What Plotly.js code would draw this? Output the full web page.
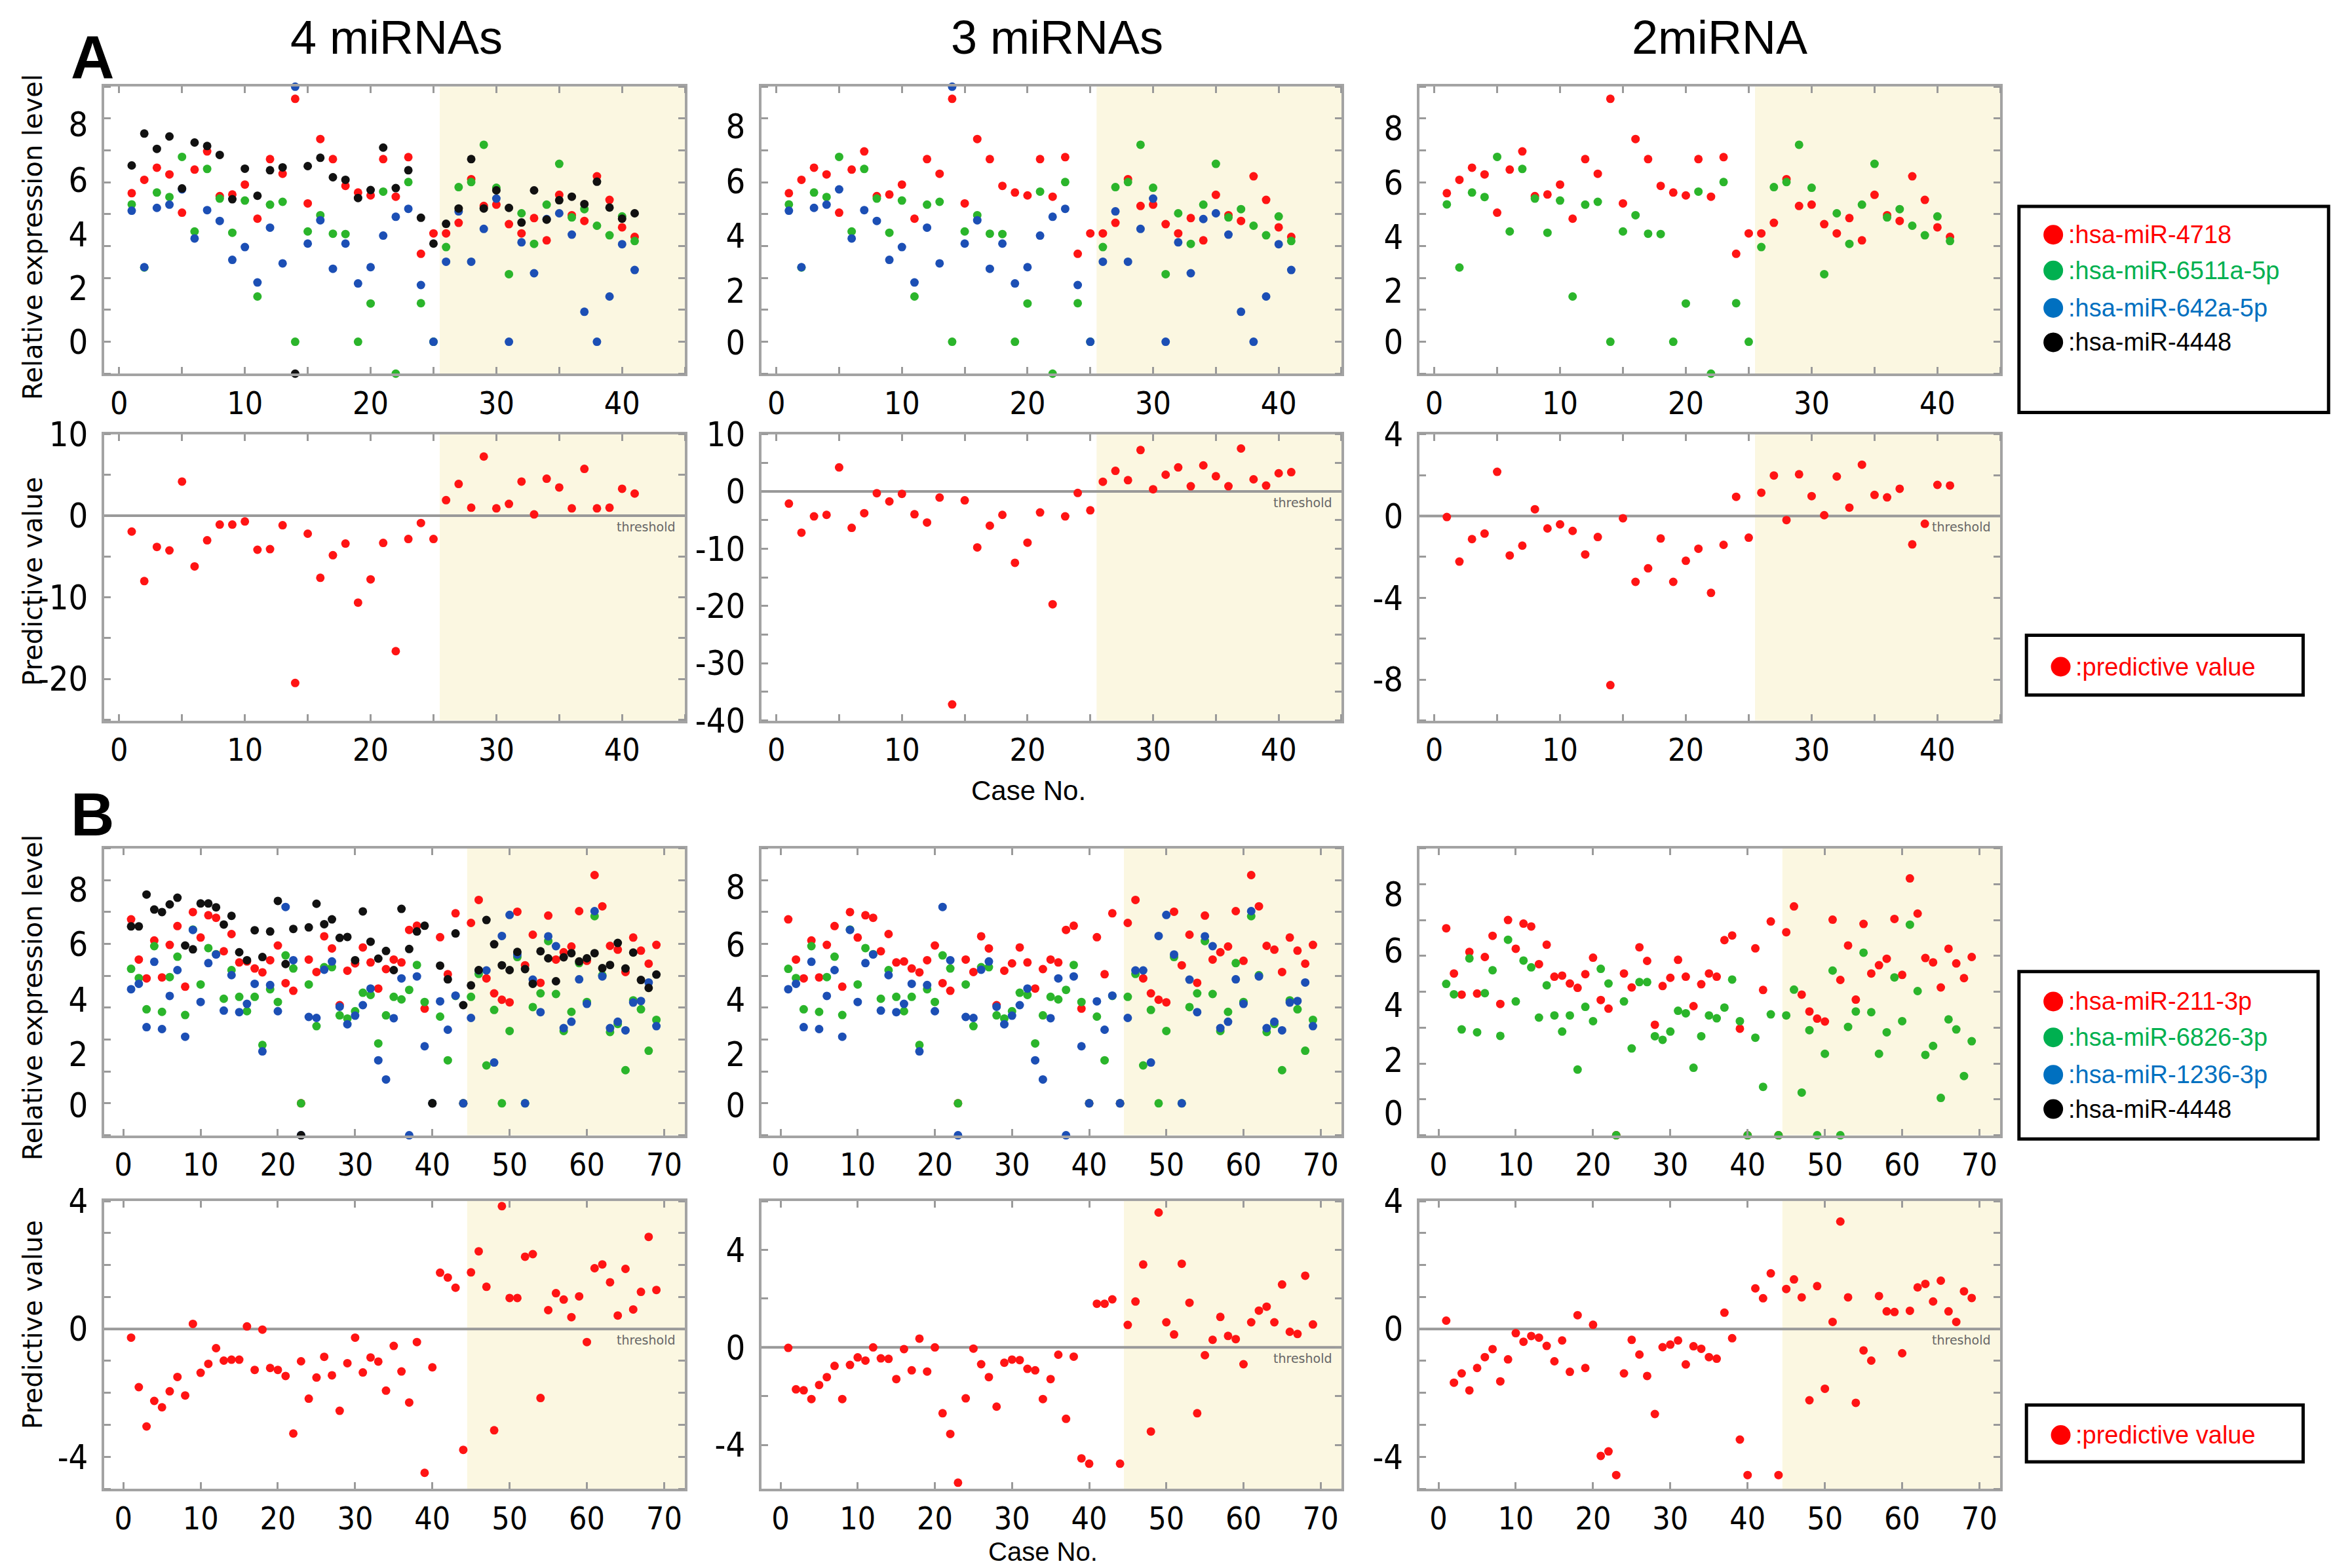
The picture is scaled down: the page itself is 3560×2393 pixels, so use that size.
<!DOCTYPE html>
<html><head><meta charset="utf-8">
<script src="https://cdn.plot.ly/plotly-3.0.1.min.js"></script>
<style>html,body{margin:0;padding:0;background:#fff}</style>
</head><body><div id="chart" style="width:3560px;height:2393px"></div>
<script>
// ---------------- DATA ----------------
const casesA = [1,2,3,4,5,6,7,8,9,10,11,12,13,14,15,16,17,18,19,20,21,22,23,24,25,26,27,28,29,30,31,32,33,34,35,36,37,38,39,40,41];
const casesB = [1,2,3,4,5,6,7,8,9,10,11,12,13,14,15,16,17,18,19,20,21,22,23,24,25,26,27,28,29,30,31,32,33,34,35,36,37,38,39,40,41,42,43,44,45,46,47,48,49,50,51,52,53,54,55,56,57,58,59,60,61,62,63,64,65,66,67,68,69];

// Set A: relative expression level
const A_miR4718  = [4.66,5.08,5.46,5.25,4.05,5.40,5.97,4.57,4.62,4.93,3.86,5.73,5.27,7.62,4.34,6.36,5.73,4.89,4.68,4.59,5.73,4.55,5.79,2.76,3.40,3.40,3.73,5.10,4.26,4.30,3.69,3.40,3.88,3.18,4.61,3.97,3.79,5.19,4.45,3.59,3.29];
const A_miR6511a = [4.31,2.33,4.68,4.54,5.80,3.46,5.42,4.49,3.42,4.43,1.42,4.30,4.39,0,3.46,3.97,3.39,3.38,0,1.20,4.71,-1.0,5.01,1.21,0,2.97,4.85,5.01,6.18,4.83,2.12,4.03,3.07,4.30,5.58,3.90,4.16,3.64,3.34,3.93,3.16];
const A_miR642a  = [4.11,2.34,4.20,4.30,4.78,3.24,4.13,3.79,2.57,2.97,1.86,3.58,2.46,8.0,3.08,3.81,2.29,3.08,1.83,2.34,3.33,3.92,4.17,1.78,0,2.51,4.09,2.51,3.54,4.49,0,3.12,2.15,3.85,4.03,3.36,0.94,0,1.42,3.06,2.25];
const A_miR4448  = [5.53,6.53,6.05,6.44,4.81,6.25,6.14,5.86,4.47,5.43,4.58,5.38,5.47,-1.0,5.51,5.77,5.16,5.08,4.51,4.76,6.09,4.82,5.38,3.89,3.08,3.70,4.18,5.73,4.18,4.75,4.20,3.74,4.75,3.83,4.44,4.55,4.32,5.02,4.21,3.86,4.03];
// Set A: predictive values
const A_pred4 = [-1.94,-8.01,-3.82,-4.25,4.19,-6.21,-3.01,-1.08,-1.08,-0.70,-4.17,-4.09,-1.16,-20.5,-2.20,-7.61,-4.84,-3.41,-10.65,-7.80,-3.33,-16.6,-2.85,-0.89,-2.85,1.91,3.90,0.99,7.26,0.91,1.45,4.19,0.16,4.54,3.47,0.91,5.75,0.91,0.99,3.31,2.72];
const A_pred3 = [-2.12,-7.20,-4.36,-4.09,4.20,-6.36,-3.79,-0.30,-1.74,-0.42,-3.98,-5.42,-1.06,-37.2,-1.55,-9.77,-5.98,-4.09,-12.46,-8.94,-3.67,-19.7,-4.36,-0.27,-3.30,1.70,3.60,1.97,7.23,0.38,2.92,4.20,0.91,4.55,2.65,0.91,7.50,2.12,1.02,3.18,3.37];
const A_pred2 = [-0.05,-2.23,-1.13,-0.86,2.16,-1.93,-1.45,0.33,-0.61,-0.41,-0.73,-1.88,-1.03,-8.27,-0.11,-3.22,-2.56,-1.10,-3.22,-2.19,-1.60,-3.76,-1.41,0.94,-1.06,1.14,1.98,-0.20,2.04,0.97,0.04,1.93,0.41,2.51,1.03,0.91,1.33,-1.39,-0.38,1.52,1.49];

// Set B: relative expression level
const B_miR211  = [5.77,4.51,3.92,5.11,3.95,4.97,5.56,3.66,6.00,5.20,5.90,5.82,4.77,5.31,4.42,4.45,4.23,4.11,4.49,4.95,3.77,3.53,0,4.51,4.12,5.24,4.86,3.08,4.16,4.39,4.89,4.42,3.60,4.21,4.51,4.42,5.44,5.57,2.97,0,5.21,4.05,5.96,0,5.66,6.38,3.92,3.45,3.25,3.17,6.01,4.33,5.29,3.78,5.89,4.51,4.74,4.92,6.03,4.47,7.16,6.18,4.94,4.82,4.12,5.20,4.79,4.38,4.97];
const B_miR6826 = [4.22,3.93,2.95,4.93,2.87,3.96,4.60,2.77,5.45,3.73,4.87,4.68,3.28,4.18,3.34,2.89,3.34,1.83,3.58,3.18,4.64,4.23,0,3.73,2.42,4.27,4.27,2.76,2.66,2.89,3.47,3.40,1.88,2.76,3.34,3.26,3.56,4.34,3.18,0,2.72,1.35,3.37,0,3.34,4.06,1.19,2.93,0,2.27,4.59,0,3.02,3.45,5.09,3.43,2.27,2.87,4.40,3.18,5.87,4.02,2.24,2.49,1.04,3.23,2.95,1.65,2.62];
const B_miR1236 = [3.58,3.75,2.39,4.44,2.33,3.37,4.18,2.09,5.44,3.18,4.40,4.67,2.91,4.02,2.86,3.12,3.75,1.63,3.71,2.89,6.16,4.49,-1.0,2.71,2.68,4.19,4.45,3.03,2.48,2.75,3.08,3.60,1.35,0.75,2.67,3.92,-1.0,3.98,1.79,0,3.20,2.31,3.38,0,2.68,4.17,4.17,1.28,5.25,5.91,4.67,0,3.88,2.86,5.24,4.93,2.36,2.56,3.89,3.12,6.03,3.98,2.36,2.56,2.29,3.16,3.21,3.79,2.42];
const B_miR4448 = [5.55,5.55,6.55,6.08,6.00,6.24,6.45,4.95,4.83,6.27,6.27,6.15,5.61,5.88,4.74,4.49,5.43,4.59,5.39,6.35,4.37,5.47,-1.0,5.52,6.26,5.62,5.77,5.19,5.22,4.49,6.02,5.07,4.54,4.78,4.18,6.10,4.84,5.39,5.57,0,4.32,3.89,5.33,3.08,3.70,4.18,5.75,4.99,4.33,4.18,4.75,4.21,3.75,4.77,4.55,3.83,4.58,4.71,4.45,4.55,4.71,4.24,4.34,5.03,4.23,4.73,3.87,3.62,4.04];
// Set B: predictive values
const B_pred4 = [-0.27,-1.82,-3.05,-2.25,-2.45,-1.95,-1.50,-2.08,0.16,-1.37,-1.09,-0.60,-0.99,-0.96,-0.96,0.08,-1.28,-0.02,-1.22,-1.28,-1.47,-3.27,-1.01,-2.18,-1.52,-0.87,-1.45,-2.56,-1.07,-0.27,-1.36,-0.89,-1.02,-1.93,-0.53,-1.33,-2.30,-0.41,-4.50,-1.20,1.76,1.61,1.29,-3.78,1.77,2.43,1.32,-3.17,3.84,0.97,0.97,2.26,2.34,-2.16,0.59,1.12,0.92,0.37,1.02,-0.41,1.90,2.02,1.46,0.42,1.88,0.61,1.16,2.88,1.22];
const B_pred3 = [-0.02,-1.72,-1.76,-2.12,-1.54,-1.22,-0.76,-2.12,-0.72,-0.41,-0.54,0.00,-0.45,-0.47,-1.30,-0.07,-0.94,0.36,-0.99,0.00,-2.70,-3.55,-5.55,-2.09,-0.05,-0.69,-1.22,-2.43,-0.63,-0.50,-0.52,-0.88,-0.94,-2.12,-1.30,-0.30,-2.93,-0.38,-4.55,-4.77,1.79,1.79,1.97,-4.77,0.92,1.88,3.40,-3.45,5.53,1.03,0.53,3.43,1.83,-2.70,-0.32,0.31,1.25,0.47,0.34,-0.69,1.03,1.51,1.67,1.03,2.58,0.64,0.55,2.94,0.94];
const B_pred2 = [0.26,-1.68,-1.39,-1.92,-1.22,-0.88,-0.63,-1.64,-0.95,-0.13,-0.40,-0.22,-0.27,-0.53,-1.01,-0.36,-1.34,0.43,-1.22,0.13,-3.97,-3.83,-4.57,-1.39,-0.34,-0.80,-1.47,-2.66,-0.57,-0.49,-0.36,-1.11,-0.54,-0.62,-0.88,-0.93,0.51,-0.29,-3.46,-4.57,1.27,0.96,1.74,-4.57,1.25,1.55,0.99,-2.23,1.34,-1.87,0.22,3.36,0.99,-2.31,-0.67,-0.99,1.03,0.55,0.53,-0.76,0.57,1.30,1.41,0.86,1.51,0.55,0.22,1.18,0.97];

// tick label texts
const exprTickText = ['0','2','4','6','8'];
const xTicksA = [0,10,20,30,40];
const xTicksB = [0,10,20,30,40,50,60,70];

// legend labels
const legendA = [':hsa-miR-4718',':hsa-miR-6511a-5p',':hsa-miR-642a-5p',':hsa-miR-4448'];
const legendB = [':hsa-miR-211-3p',':hsa-miR-6826-3p',':hsa-miR-1236-3p',':hsa-miR-4448'];
const colTitles = ['4 miRNAs','3 miRNAs','2miRNA'];

// ---------------- STYLE ----------------
const DOT = {red:'#ff1414', green:'#2bb52b', blue:'#1c4fb5', black:'#111111'};
const LEG = {red:'#ff0000', green:'#00b050', blue:'#0070c0', black:'#000000'};
const SHADE = '#fbf7e1';
const BOX = '#a3a3a3';
const FAM = '"Liberation Sans Narrow","DejaVu Sans Condensed","Liberation Sans",sans-serif';
const YTICKFONT = {family:FAM, size:52, color:'#000'};
const XTICKFONT = {family:FAM, size:48, color:'#000'};
const xDom = [[0.0446,0.2936],[0.3263,0.5750],[0.6083,0.8574]];
const yDom = [[0.7617,0.9447],[0.5405,0.7231],[0.2760,0.4590],[0.0505,0.2340]];

function seq(a,b,s){const r=[];for(let v=a;v<=b+1e-9;v+=s)r.push(+v.toFixed(6));return r;}

const traces=[], shapes=[], annotations=[];
const layout = {width:3560, height:2393, margin:{l:0,r:0,t:0,b:0}, paper_bgcolor:'#fff', plot_bgcolor:'rgba(0,0,0,0)', showlegend:false, font:{family:'Liberation Sans, Arial, sans-serif'}};

function panel(idx,row,col,o){
  const sfx = idx===1?'':String(idx);
  const xr='x'+sfx, yr='y'+sfx;
  layout['xaxis'+sfx] = {domain:xDom[col], anchor:yr, range:o.xr, tickmode:'array', tickvals:o.xt, ticktext:o.xt.map(String),
    ticks:'', showline:true, mirror:'ticks', linecolor:BOX, linewidth:4, showgrid:false, zeroline:false, tickfont:XTICKFONT, ticklabelstandoff:0,
    minor:{tickmode:'array', tickvals:o.xm, ticks:'inside', ticklen:10, tickwidth:3, tickcolor:'#9a9a9a', showgrid:false}};
  layout['yaxis'+sfx] = {domain:yDom[row], anchor:xr, range:o.yr, tickmode:'array', tickvals:o.yt, ticktext:o.ytt,
    ticks:'', showline:true, mirror:'ticks', linecolor:BOX, linewidth:4, showgrid:false, zeroline:false, tickfont:YTICKFONT, ticklabelstandoff:10,
    minor:{tickmode:'array', tickvals:o.ym, ticks:'inside', ticklen:10, tickwidth:3, tickcolor:'#9a9a9a', showgrid:false}};
  shapes.push({type:'rect', xref:xr, yref:yr+' domain', x0:o.shade, x1:o.xr[1], y0:0, y1:1, fillcolor:SHADE, line:{width:0}, layer:'below'});
  if(o.thr){
    shapes.push({type:'line', xref:xr+' domain', yref:yr, x0:0, x1:1, y0:0, y1:0, line:{color:'#999', width:4}, layer:'below'});
    annotations.push({xref:xr+' domain', yref:yr, x:0.985, y:0, xanchor:'right', yanchor:'top', yshift:-4, text:'threshold', showarrow:false, font:{family:'DejaVu Sans', size:19, color:'#666'}});
  }
  o.series.forEach(s=>{
    traces.push({type:'scatter', mode:'markers', x:o.cases, y:s[0], xaxis:xr, yaxis:yr, cliponaxis:false, hoverinfo:'skip',
      marker:{color:s[1], size:13, line:{width:0}}});
  });
}

const axA = {xr:[-1.2,45], xt:xTicksA, xm:seq(0,45,5), shade:25.5, cases:casesA};
const axB = {xr:[-2.5,72.7], xt:xTicksB, xm:seq(0,70,10), shade:44.5, cases:casesB};

// Row A expression
panel(1,0,0,Object.assign({},axA,{yr:[-1,8], yt:[0,1.68,3.36,5.07,6.82], ytt:exprTickText, ym:seq(-1,8,1),
  series:[[A_miR4718,DOT.red],[A_miR6511a,DOT.green],[A_miR642a,DOT.blue],[A_miR4448,DOT.black]]}));
panel(2,0,1,Object.assign({},axA,{yr:[-1,8], yt:[-0.03,1.60,3.32,5.03,6.75], ytt:exprTickText, ym:seq(-1,8,1),
  series:[[A_miR4718,DOT.red],[A_miR6511a,DOT.green],[A_miR642a,DOT.blue]]}));
panel(3,0,2,Object.assign({},axA,{yr:[-1,8], yt:[0,1.59,3.29,4.98,6.69], ytt:exprTickText, ym:seq(-1,8,1),
  series:[[A_miR4718,DOT.red],[A_miR6511a,DOT.green]]}));
// Row A predictive
panel(4,1,0,Object.assign({},axA,{yr:[-25.1,10], yt:[-20,-10,0,10], ytt:['-20','-10','0','10'], ym:seq(-25,10,5), thr:true,
  series:[[A_pred4,DOT.red]]}));
panel(5,1,1,Object.assign({},axA,{yr:[-40,10], yt:[-40,-30,-20,-10,0,10], ytt:['-40','-30','-20','-10','0','10'], ym:seq(-40,10,5), thr:true,
  series:[[A_pred3,DOT.red]]}));
panel(6,1,2,Object.assign({},axA,{yr:[-10,4], yt:[-8,-4,0,4], ytt:['-8','-4','0','4'], ym:seq(-10,4,2), thr:true,
  series:[[A_pred2,DOT.red]]}));
// Row B expression
panel(7,2,0,Object.assign({},axB,{yr:[-1,8], yt:[-0.07,1.54,3.25,5.0,6.71], ytt:exprTickText, ym:seq(-1,8,1),
  series:[[B_miR211,DOT.red],[B_miR6826,DOT.green],[B_miR1236,DOT.blue],[B_miR4448,DOT.black]]}));
panel(8,2,1,Object.assign({},axB,{yr:[-1,8], yt:[-0.07,1.54,3.25,4.97,6.78], ytt:exprTickText, ym:seq(-1,8,1),
  series:[[B_miR211,DOT.red],[B_miR6826,DOT.green],[B_miR1236,DOT.blue]]}));
panel(9,2,2,Object.assign({},axB,{yr:[0,8], yt:[0.61,2.10,3.63,5.15,6.71], ytt:exprTickText, ym:seq(0,8,1),
  series:[[B_miR211,DOT.red],[B_miR6826,DOT.green]]}));
// Row B predictive
panel(10,3,0,Object.assign({},axB,{yr:[-5,4], yt:[-4,0,4], ytt:['-4','0','4'], ym:seq(-5,4,1), thr:true,
  series:[[B_pred4,DOT.red]]}));
panel(11,3,1,Object.assign({},axB,{yr:[-5.8,6], yt:[-4,0,4], ytt:['-4','0','4'], ym:seq(-4,6,2), thr:true,
  series:[[B_pred3,DOT.red]]}));
panel(12,3,2,Object.assign({},axB,{yr:[-5,4], yt:[-4,0,4], ytt:['-4','0','4'], ym:seq(-5,4,1), thr:true,
  series:[[B_pred2,DOT.red]]}));

// ---------------- TEXT ----------------
const TXT = 'Liberation Sans, Arial, sans-serif';
function note(x,y,text,font,extra){
  annotations.push(Object.assign({xref:'paper',yref:'paper',x:x,y:y,xanchor:'center',yanchor:'middle',text:text,showarrow:false,font:font},extra||{}));
}
note(0.0397,0.9638,'<b>A</b>',{family:TXT,size:92,color:'#000'});
note(0.0397,0.4805,'<b>B</b>',{family:TXT,size:92,color:'#000'});
[0.170,0.453,0.737].forEach((x,i)=>note(x,0.976,colTitles[i],{family:TXT,size:72,color:'#000'}));
[[0.849,'Relative expression level'],[0.629,'Predictive value'],[0.364,'Relative expression level'],[0.155,'Predictive value']].forEach(a=>
  note(0.0141,a[0],a[1],{family:'DejaVu Sans',size:40,color:'#000'},{textangle:-90}));
note(0.441,0.4957,'Case No.',{family:TXT,size:42,color:'#000'});
note(0.447,0.0005,'Case No.',{family:TXT,size:40,color:'#000'},{yanchor:'bottom'});

// ---------------- LEGEND BOXES ----------------
const RX = 15/3560, RY = 15/2393;
function legendBox(x0,x1,y0,y1,items,dotX,textX){
  shapes.push({type:'rect',xref:'paper',yref:'paper',x0:x0,x1:x1,y0:y0,y1:y1,line:{color:'#000',width:5},fillcolor:'rgba(0,0,0,0)'});
  items.forEach(it=>{
    shapes.push({type:'circle',xref:'paper',yref:'paper',x0:dotX-RX,x1:dotX+RX,y0:it[2]-RY,y1:it[2]+RY,fillcolor:it[1],line:{width:0}});
    annotations.push({xref:'paper',yref:'paper',x:textX,y:it[2],xanchor:'left',yanchor:'middle',text:it[0],showarrow:false,font:{family:TXT,size:38,color:it[1]}});
  });
}
const legCols = [LEG.red, LEG.green, LEG.blue, LEG.black];
const legYA = [0.8503,0.8275,0.8036,0.7817];
const legYB = [0.3613,0.3384,0.3146,0.2927];
legendBox(0.8654,0.9981,0.7369,0.8684, legendA.map((t,i)=>[t,legCols[i],legYA[i]]), 0.8801, 0.8859);
legendBox(0.8686,0.9872,0.5567,0.5949, [[':predictive value',LEG.red,0.5748]], 0.8833, 0.8891);
legendBox(0.8654,0.9936,0.2736,0.3804, legendB.map((t,i)=>[t,legCols[i],legYB[i]]), 0.8801, 0.8859);
legendBox(0.8686,0.9872,0.0677,0.1039, [[':predictive value',LEG.red,0.0848]], 0.8833, 0.8891);

layout.shapes = shapes;
layout.annotations = annotations;
Plotly.newPlot('chart', traces, layout, {staticPlot:true, displayModeBar:false});
</script></body></html>
